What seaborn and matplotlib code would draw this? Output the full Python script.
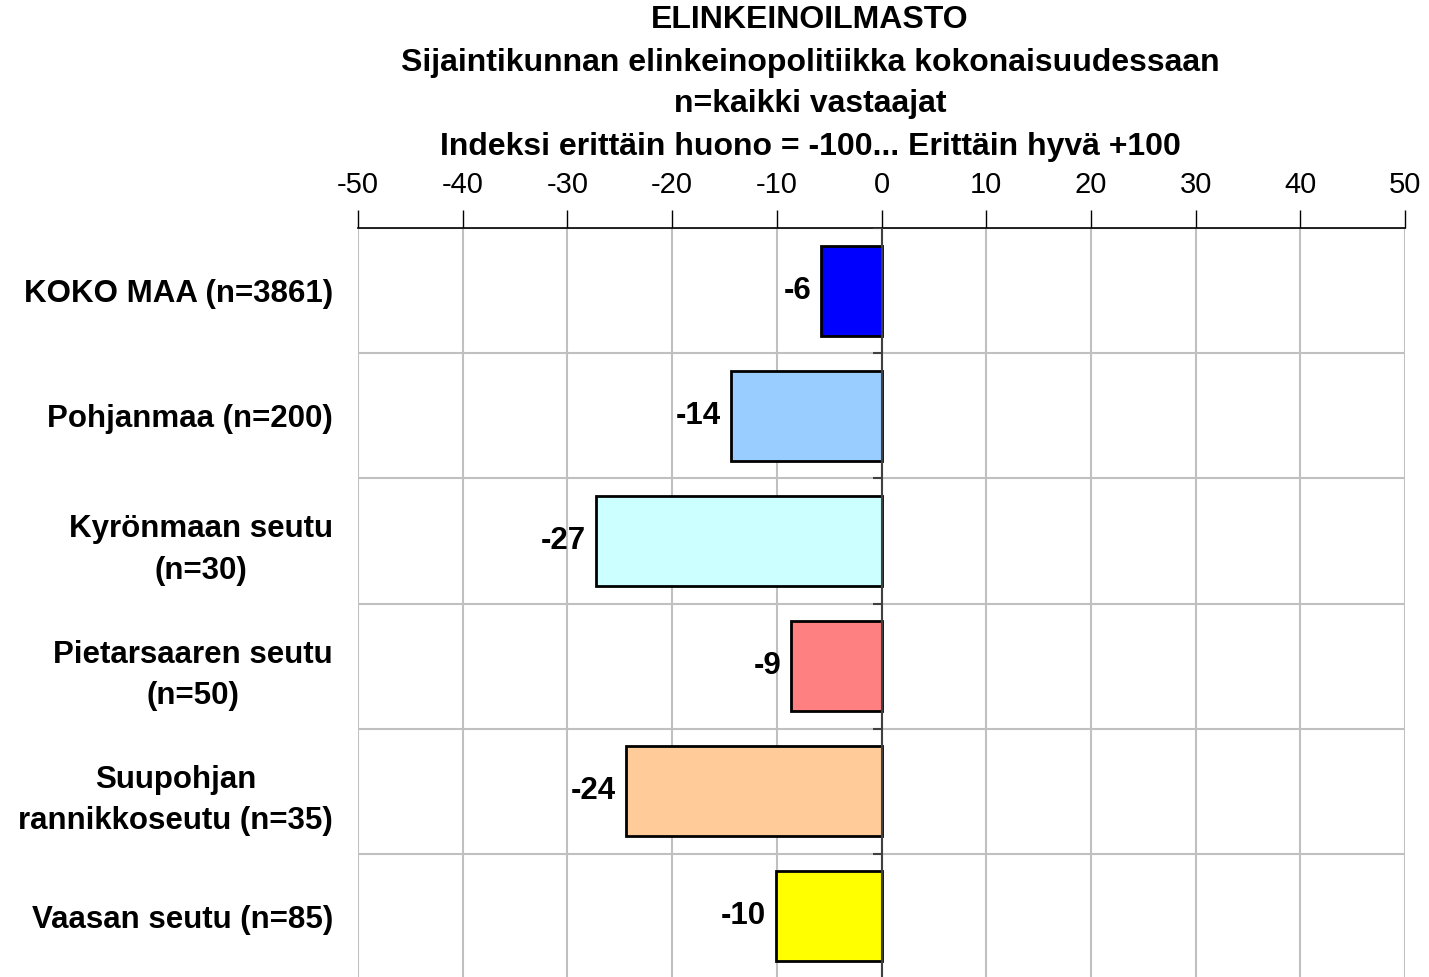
import numpy as np
import matplotlib
matplotlib.use('Agg')
import matplotlib.pyplot as plt
import seaborn as sns

# Data
categories = ['KOKO MAA (n=3861)', 'Pohjanmaa (n=200)', 'Kyrönmaan seutu\n(n=30)',
              'Pietarsaaren seutu\n(n=50)', 'Suupohjan\nrannikkoseutu (n=35)', 'Vaasan seutu (n=85)']
values = [-5.8, -14.4, -27.3, -8.6, -24.4, -10.1]
colors = ['#0000FF', '#99CCFF', '#CCFFFF', '#FF8080', '#FFCC99', '#FFFF00']
xticks = [-50, -40, -30, -20, -10, 0, 10, 20, 30, 40, 50]
title_lines = ['ELINKEINOILMASTO',
               'Sijaintikunnan elinkeinopolitiikka kokonaisuudessaan',
               'n=kaikki vastaajat',
               'Indeksi erittäin huono = -100... Erittäin hyvä +100']

sns.set_theme(style='white')
plt.rcParams['font.family'] = ['Liberation Sans', 'DejaVu Sans']
plt.rcParams['text.color'] = 'black'
plt.rcParams['xtick.color'] = 'black'
plt.rcParams['ytick.color'] = 'black'

fig = plt.figure(figsize=(14.29, 9.77), dpi=100)
ax = fig.add_axes([358 / 1429, -2 / 977, (1405 - 358) / 1429, (979 - 228) / 977])

sns.barplot(x=values, y=categories, hue=categories, palette=colors, legend=False,
            saturation=1, orient='h', edgecolor='black', linewidth=2, width=0.72,
            ax=ax, zorder=3)

ax.set_xlim(-50, 50)
ax.set_ylim(len(categories) - 0.5, -0.5)

# top axis
ax.xaxis.tick_top()
ax.set_xticks(xticks)
ax.set_xticklabels([str(t) for t in xticks], fontsize=21)
ax.tick_params(axis='x', direction='out', length=13, width=1, color='black', pad=8)
ax.grid(axis='x', color='#c0c0c0', linewidth=1.5, zorder=0)

# category boundaries
bounds = np.arange(len(categories) + 1) - 0.5
ax.set_yticks(bounds, minor=True)
ax.grid(axis='y', which='minor', color='#c0c0c0', linewidth=1.5, zorder=0)
ax.tick_params(axis='y', which='both', length=0, pad=18)
ax.set_yticklabels(categories, fontsize=22.5, fontweight='bold', ha='right',
                   multialignment='center', linespacing=1.5)

for s in ['left', 'right', 'bottom']:
    ax.spines[s].set_visible(False)
ax.spines['top'].set_color('black')
ax.spines['top'].set_linewidth(1.2)

# zero line with small tick marks
ax.axvline(0, color='#404040', linewidth=1.5, zorder=4)
ax.hlines(bounds, -0.8, 0, color='#404040', linewidth=1.5, zorder=4)

ax.set_xlabel('')
ax.set_ylabel('')

labels = [f'{v:.0f}' for v in values]
for cont, lab in zip(ax.containers, labels):
    ax.bar_label(cont, labels=[lab], padding=7, fontsize=22.5, fontweight='bold')

ys = [20, 63, 104, 147]
for line, y in zip(title_lines, ys):
    fig.text(810 / 1429, 1 - y / 977, line, ha='center', va='center',
             fontsize=23, fontweight='bold')

fig.savefig('out.png', dpi=100)
